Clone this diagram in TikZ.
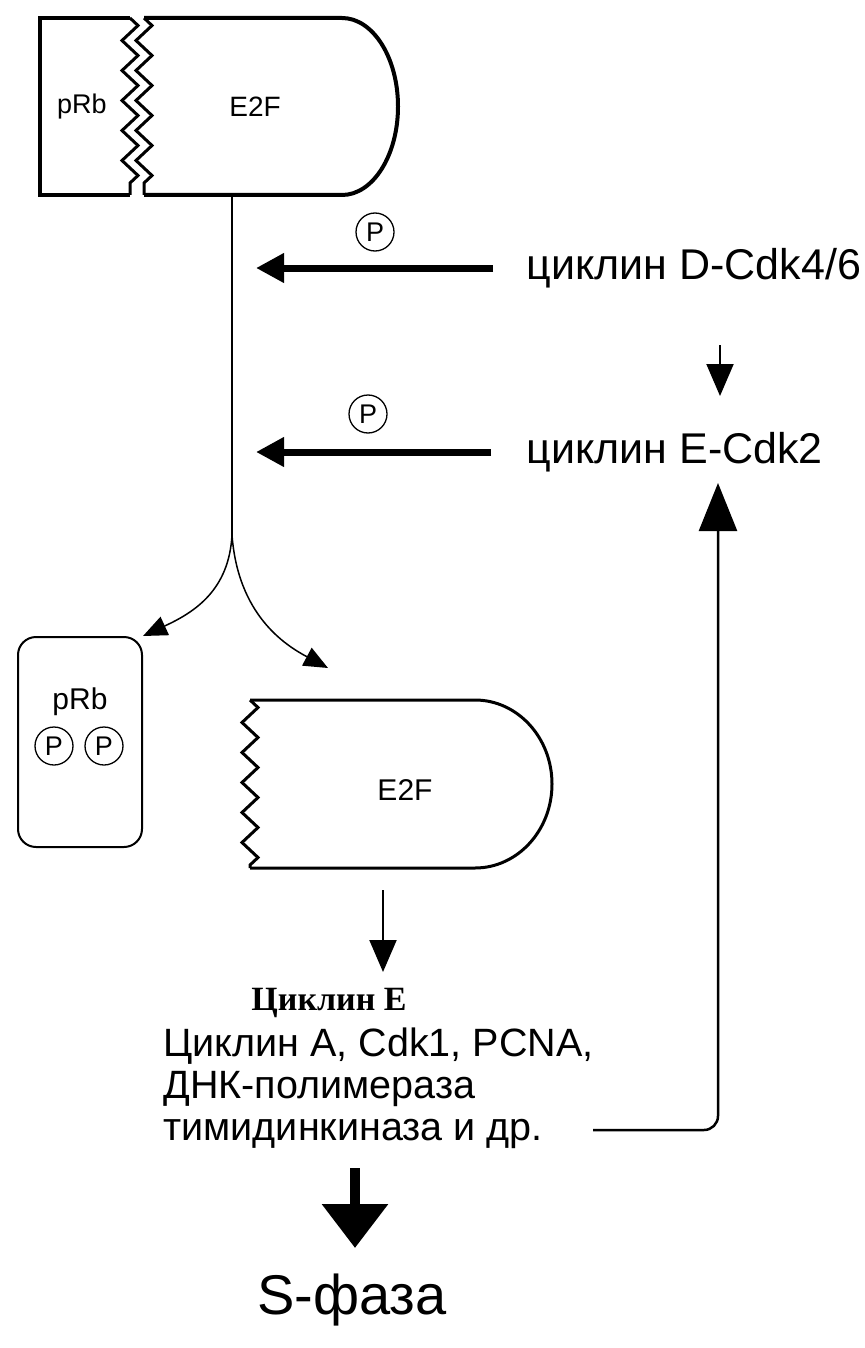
\documentclass[tikz,border=0pt]{standalone}
\usepackage{fontspec}
\setmainfont{Liberation Sans}
\newfontfamily\titlefont{Liberation Serif}
\usetikzlibrary{positioning, arrows.meta, decorations.pathmorphing}

\begin{document}
\begin{tikzpicture}[x=1pt, y=1pt,
    phos/.style={draw, circle, line width=1.3pt, minimum size=38pt, inner sep=0pt, font=\fontsize{27}{27}\selectfont},
    kinase/.style={line width=7pt, -{Triangle[length=28pt, width=28pt]}},
    thinarrow/.style={line width=2pt, -{Triangle[length=32pt, width=27pt]}},
    split/.style={line width=1.5pt, -{Triangle[length=24pt, width=20pt]}},
    zig/.style={decorate, decoration={zigzag, segment length=30pt, amplitude=8pt}},
    big/.style={font=\fontsize{43}{48}\selectfont}]
    \useasboundingbox (0,0) rectangle (864,-1348);

    % Complex pRb-E2F (top)
    \draw[line width=4pt] (130,-18) -- (40,-18) -- (40,-195) -- (130,-195);
    \draw[line width=3pt, zig] (130,-18) -- (130,-195);
    \draw[line width=3pt, zig] (144,-18) -- (144,-195);
    \draw[line width=4pt] (144,-195) -- (342,-195)
        arc[start angle=-90, end angle=90, x radius=56, y radius=88.5] -- (144,-18);
    \node[font=\fontsize{27}{27}\selectfont] (prbtop) at (82,-107) {pRb};
    \node[font=\fontsize{28}{28}\selectfont] (e2ftop) at (255,-107) {E2F};

    % Kinases
    \node[big, anchor=west] (cycD) at (523,-268) {циклин D-Cdk4/6};
    \node[big, anchor=west] (cycE) at (523,-452) {циклин E-Cdk2};
    \node[phos] (p1) at (375,-232) {P};
    \node[phos] (p2) at (368,-414) {P};

    % Vertical line and split
    \coordinate (cplx) at (232,-197);
    \coordinate (fork) at (232,-535);
    \coordinate (hitD) at (256,-268);
    \coordinate (hitE) at (256,-452);
    \draw[line width=2pt] (cplx) -- (fork);
    \draw[kinase] (cycD.west) ++(-30,0) -- (hitD);
    \draw[kinase] (cycE.west) ++(-32,0) -- (hitE);
    \coordinate (dstart) at (720,-345);
    \coordinate (dend) at (720,-396);
    \draw[thinarrow] (dstart) -- (dend);

    % Free pRb
    \node[draw, rounded corners=18pt, line width=2pt, minimum width=124pt, minimum height=210pt] (prbfree) at (80,-742) {};
    \node[font=\fontsize{30}{30}\selectfont] (prblabel) at (80,-702) {pRb};
    \node[phos] (p3) at (54,-746) {P};
    \node[phos] (p4) at (104,-746) {P};

    % Free E2F
    \draw[line width=3pt, zig] (250,-700) -- (250,-868);
    \draw[line width=3pt] (250,-868) -- (475,-868)
        arc[start angle=-90, end angle=90, x radius=77, y radius=84] -- (250,-700);
    \node[font=\fontsize{30}{30}\selectfont] (e2ffree) at (405,-790) {E2F};

    \draw[split] (fork) .. controls (229,-590) and (195,-612) .. (prbfree.north east);
    \draw[split] (fork) .. controls (238,-615) and (285,-645) .. (328,-668);

    % Targets
    \coordinate (estart) at (383,-890);
    \coordinate (eend) at (383,-972);
    \draw[thinarrow] (estart) -- (eend);
    \node[font=\titlefont\bfseries\fontsize{34}{34}\selectfont] (cycEgene) at (329,-1003) {Циклин Е};
    \node[anchor=north west, align=left, font=\fontsize{39.5}{42}\selectfont] (targets) at (160,-1024)
        {Циклин A, Cdk1, PCNA,\\ДНК-полимераза\\тимидинкиназа и др.};

    % Feedback to cyclin E-Cdk2
    \coordinate (fbstart) at (593,-1130);
    \coordinate (fbend) at (718,-483);
    \draw[line width=2.5pt, rounded corners=14pt, -{Triangle[length=48pt, width=38pt]}] (fbstart) -- (fbend |- fbstart) -- (fbend);

    % S-phase
    \coordinate (sstart) at (355,-1168);
    \coordinate (send) at (355,-1248);
    \draw[line width=10pt, -{Triangle[length=44pt, width=64pt]}] (sstart) -- (send);
    \node[font=\fontsize{56}{56}\selectfont] (sphase) at (352,-1300) {S-фаза};
\end{tikzpicture}
\end{document}
